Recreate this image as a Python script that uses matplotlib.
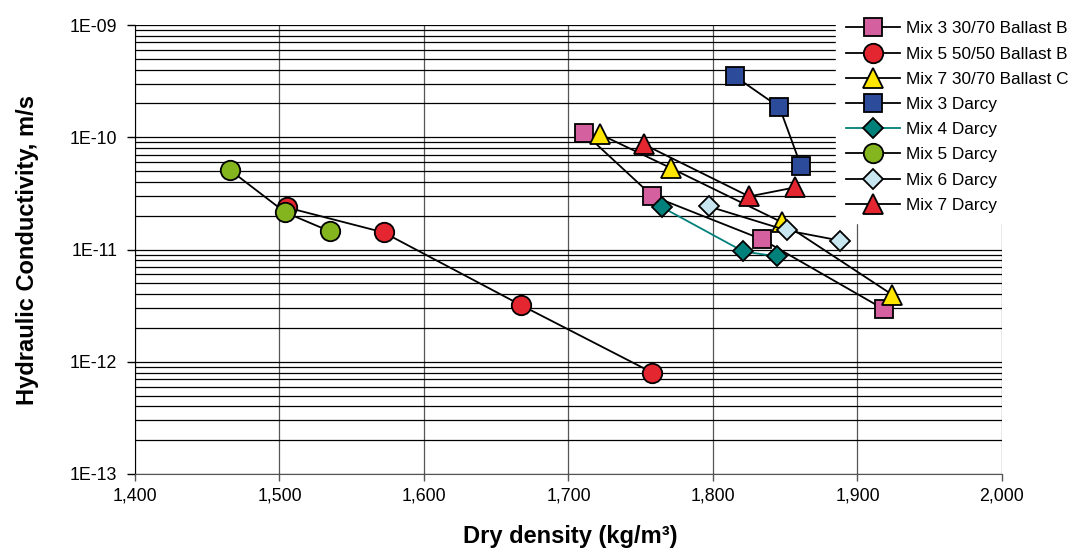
import numpy as np
import matplotlib
matplotlib.use('Agg')
import matplotlib.pyplot as plt
from matplotlib.ticker import FixedLocator, FuncFormatter, LogLocator, NullFormatter

plt.rcParams['font.family'] = ['Liberation Sans', 'DejaVu Sans']

# data (dry density kg/m3, hydraulic conductivity m/s)
mix3_bb_x = [1711, 1758, 1834, 1918]
mix3_bb_k = [1.09e-10, 3.0e-11, 1.23e-11, 2.95e-12]

mix5_bb_x = [1505, 1572, 1667, 1758]
mix5_bb_k = [2.37e-11, 1.42e-11, 3.2e-12, 8.0e-13]

mix7_bc_x = [1722, 1771, 1848, 1924]
mix7_bc_k = [1.06e-10, 5.3e-11, 1.74e-11, 3.96e-12]

mix3_d_x = [1815, 1846, 1861]
mix3_d_k = [3.5e-10, 1.85e-10, 5.5e-11]

mix4_d_x = [1765, 1821, 1844]
mix4_d_k = [2.37e-11, 9.6e-12, 8.7e-12]

mix5_d_x = [1466, 1504, 1535]
mix5_d_k = [5.07e-11, 2.14e-11, 1.45e-11]

mix6_d_x = [1797, 1851, 1888]
mix6_d_k = [2.42e-11, 1.48e-11, 1.2e-11]

mix7_d_x = [1752, 1825, 1857]
mix7_d_k = [8.66e-11, 2.97e-11, 3.58e-11]

x_ticks = [1400, 1500, 1600, 1700, 1800, 1900, 2000]
y_ticks = [1e-13, 1e-12, 1e-11, 1e-10, 1e-09]

pink = '#D4609F'
red = '#E3262F'
yellow = '#FFE600'
blue = '#2D4B9B'
teal = '#00807A'
green = '#84B51E'
lblue = '#C8E6F0'

fig = plt.figure(figsize=(10.69, 5.5), dpi=100)
ax = fig.add_axes([135 / 1069, 76 / 550, 867 / 1069, 449 / 550])

mew = 1.3
lw = 1.3
series = [
    (mix3_bb_x, mix3_bb_k, 's', 13.5, pink, 'black', 'Mix 3 30/70 Ballast B'),
    (mix5_bb_x, mix5_bb_k, 'o', 14, red, 'black', 'Mix 5 50/50 Ballast B'),
    (mix7_bc_x, mix7_bc_k, '^', 15, yellow, 'black', 'Mix 7 30/70 Ballast C'),
    (mix3_d_x, mix3_d_k, 's', 13.5, blue, 'black', 'Mix 3 Darcy'),
    (mix4_d_x, mix4_d_k, 'D', 10, teal, teal, 'Mix 4 Darcy'),
    (mix5_d_x, mix5_d_k, 'o', 14, green, 'black', 'Mix 5 Darcy'),
    (mix6_d_x, mix6_d_k, 'D', 10, lblue, 'black', 'Mix 6 Darcy'),
    (mix7_d_x, mix7_d_k, '^', 15, red, 'black', 'Mix 7 Darcy'),
]
handles = []
for i, (xs, ks, m, ms, fc, lc, lab) in enumerate(series):
    h, = ax.plot(xs, ks, color=lc, lw=lw, marker=m, ms=ms, mfc=fc, mec='black',
                 mew=mew, label=lab, zorder=3 + i * 0.1, clip_on=False)
    handles.append(h)

ax.set_yscale('log')
ax.set_xlim(1400, 2000)
ax.set_ylim(1e-13, 1e-09)

ax.xaxis.set_major_locator(FixedLocator(x_ticks))
ax.xaxis.set_major_formatter(FuncFormatter(lambda v, p: f'{int(v):,}'))
ax.yaxis.set_major_locator(FixedLocator(y_ticks))
ax.yaxis.set_major_formatter(FuncFormatter(lambda v, p: f'1E{int(round(np.log10(v))):03d}'))
ax.yaxis.set_minor_locator(LogLocator(base=10, subs=np.arange(2, 10)))
ax.yaxis.set_minor_formatter(NullFormatter())

ax.tick_params(axis='y', which='major', direction='out', length=5.8, width=1, pad=7,
               labelsize=12.8, color='black')
ax.tick_params(axis='y', which='minor', length=0)
ax.tick_params(axis='x', which='major', direction='out', length=5, width=1, pad=5,
               labelsize=12.8, color='#555555')

ax.grid(True, which='both', axis='y', color='black', lw=0.9)
ax.grid(True, which='major', axis='x', color='#555555', lw=0.9)
ax.set_axisbelow(True)

ax.spines['top'].set_visible(False)
ax.spines['right'].set_visible(False)
ax.spines['left'].set_color('black')
ax.spines['bottom'].set_color('#555555')

fig.text(570 / 1069, 1 - 537 / 550, 'Dry density (kg/m³)', ha='center', va='center',
         fontsize=17, fontweight='bold')
fig.text(28 / 1069, 1 - 250 / 550, 'Hydraulic Conductivity, m/s', ha='center', va='center',
         rotation=90, fontsize=17, fontweight='bold')

leg = fig.legend(handles=handles, loc='upper left', bbox_to_anchor=(836 / 1069, 1 - 11 / 550),
                 frameon=True, fontsize=12.4, numpoints=1, handlelength=3.14,
                 handletextpad=0.35, labelspacing=0.59, borderpad=0.6, borderaxespad=0)
leg.get_frame().set_facecolor('white')
leg.get_frame().set_edgecolor('white')
leg.get_frame().set_alpha(1)
leg.get_frame().set_boxstyle('square', pad=0)

fig.savefig('out.png', dpi=100)
